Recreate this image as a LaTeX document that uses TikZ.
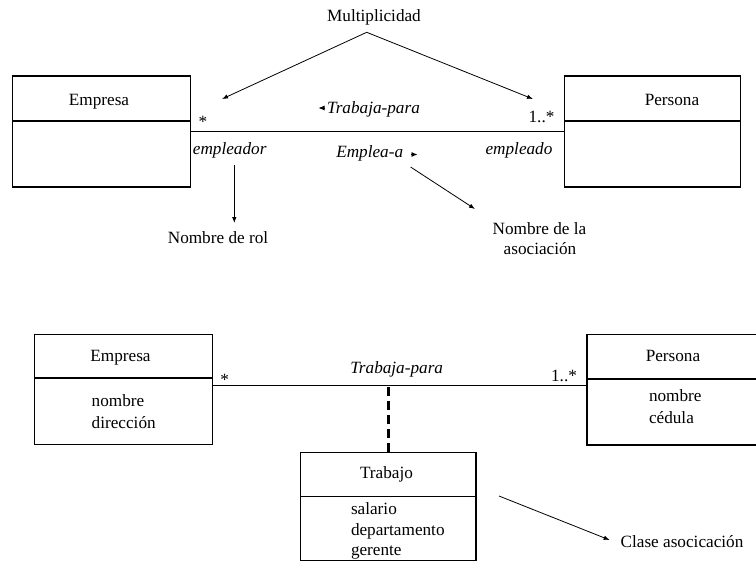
\documentclass[tikz,border=0pt]{standalone}
\usepackage{fontspec}
\setmainfont{Liberation Serif}
\usetikzlibrary{arrows.meta}
\begin{document}
\begin{tikzpicture}[x=1pt,y=-1pt,
  every node/.style={font=\fontsize{17.2}{20.5}\selectfont, inner sep=0pt, outer sep=0pt},
  classbox/.style={draw, rectangle, line width=1.3pt, inner sep=0pt},
  boxline/.style={line width=1.3pt},
  lbl/.style={anchor=base},
  attr/.style={anchor=base west},
  role/.style={anchor=base, font=\fontsize{17.2}{20.5}\selectfont\itshape},
  assoc/.style={line width=0.9pt},
  pointer/.style={line width=0.8pt, -{Latex[length=6pt,width=4.5pt]}},
  tick/.style={line width=0.8pt, -{Latex[length=6pt,width=5pt]}},
  link/.style={line width=2.4pt, dash pattern=on 9pt off 5pt}
]
\clip (0,0) rectangle (756,563);

% ---------- upper diagram: roles, multiplicity and association name ----------
\node[classbox, line width=1.8pt, minimum width=178pt, minimum height=111pt] (emp1) at (101.4,131.5) {};
\draw[boxline, line width=1.8pt] (emp1.west |- 0,121) -- (emp1.east |- 0,121);
\node[lbl] (emp1t) at (99,105) {Empresa};

\node[classbox, minimum width=176.4pt, minimum height=111pt] (per1) at (652.5,131.5) {};
\draw[boxline] (per1.west |- 0,121) -- (per1.east |- 0,121);
\node[lbl] (per1t) at (672,105) {Persona};

\draw[assoc] (emp1.east) -- (per1.west);

\node[lbl] (m1a) at (203,127) {*};
\node[lbl] (m1b) at (541.5,122) {1..*};
\node[role] (as1) at (373.5,113.5) {Trabaja-para};
\node[role] (r1a) at (229.7,154) {empleador};
\node[role] (as1b) at (369.7,157) {Emplea-a};
\node[role] (r1b) at (519,154) {empleado};

% direction markers of the association names
\coordinate (dirA0) at (325,108);
\coordinate (dirA1) at (318.5,108);
\draw[tick] (dirA0) -- (dirA1);
\coordinate (dirB0) at (411,154.5);
\coordinate (dirB1) at (417.5,154.5);
\draw[tick] (dirB0) -- (dirB1);

% annotations
\node[lbl] (mult) at (374,21.7) {Multiplicidad};
\coordinate (apex) at (366.7,32.3);
\coordinate (multL) at (222,99);
\coordinate (multR) at (533,99);
\draw[pointer] (apex) -- (multL);
\draw[pointer] (apex) -- (multR);

\coordinate (rolS) at (234.3,165);
\coordinate (rolE) at (234.3,223);
\draw[pointer] (rolS) -- (rolE);
\node[lbl] (rol) at (218,243) {Nombre de rol};

\coordinate (asnS) at (410.6,167);
\coordinate (asnE) at (475,209);
\draw[pointer] (asnS) -- (asnE);
\node[lbl] (asn1) at (539.5,234) {Nombre de la};
\node[lbl] (asn2) at (540,254.5) {asociación};

% ---------- lower diagram: association class ----------
\node[classbox, minimum width=178pt, minimum height=110pt] (emp2) at (123.3,389.3) {};
\draw[boxline] (emp2.west |- 0,378) -- (emp2.east |- 0,378);
\node[lbl] (emp2t) at (120.5,361.7) {Empresa};
\node[attr] (emp2a) at (91.7,406) {nombre};
\node[attr] (emp2b) at (91.7,428) {dirección};

\node[classbox, minimum width=183pt, minimum height=110.7pt] (per2) at (678.5,389.6) {};
\draw[boxline] (per2.west |- 0,379) -- (per2.east |- 0,379);
\node[lbl] (per2t) at (673,361.7) {Persona};
\node[attr] (per2a) at (649,401.5) {nombre};
\node[attr] (per2b) at (649,423) {cédula};

\coordinate (lineL) at (212.3,385.7);
\coordinate (lineR) at (587,385.7);
\draw[assoc] (emp2.east |- lineL) -- (per2.west |- lineR);

\node[lbl] (m2a) at (224.6,385) {*};
\node[lbl] (m2b) at (564,381.7) {1..*};
\node[role] (as2) at (396.7,373) {Trabaja-para};

\node[classbox, minimum width=175.3pt, minimum height=108.4pt] (trab) at (388.4,506.5) {};
\draw[boxline] (trab.west |- 0,496.7) -- (trab.east |- 0,496.7);
\node[lbl] (trabt) at (386.5,478) {Trabajo};
\node[attr] (trab1) at (351,514) {salario};
\node[attr] (trab2) at (351,535) {departamento};
\node[attr] (trab3) at (351,555) {gerente};

\draw[link] (trab.north) -- (trab.north |- lineL);

\coordinate (clsS) at (499,496);
\coordinate (clsE) at (609.7,540);
\draw[pointer] (clsS) -- (clsE);
\node[lbl] (cls) at (682,547) {Clase asocicación};
\end{tikzpicture}
\end{document}
